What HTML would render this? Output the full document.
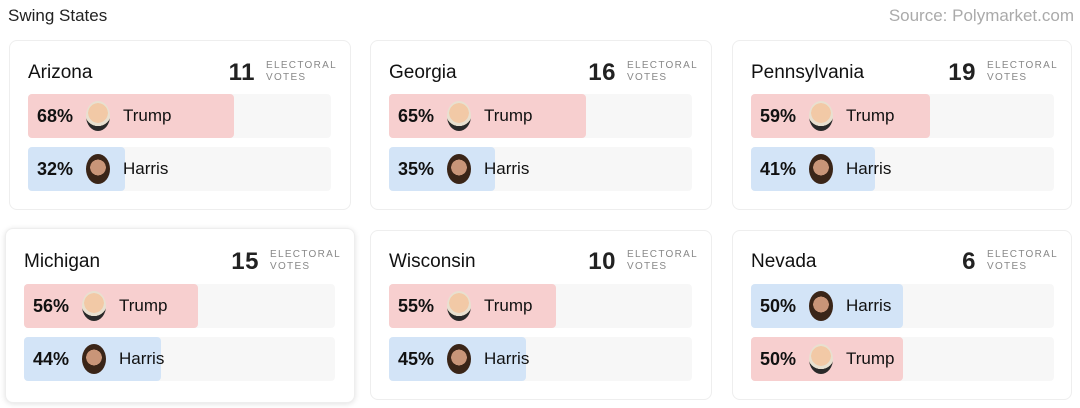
<!DOCTYPE html>
<html><head><meta charset="utf-8"><style>
*{margin:0;padding:0;box-sizing:border-box}
body{width:1080px;height:408px;background:#fff;font-family:"Liberation Sans",sans-serif;position:relative;overflow:hidden;color:#111}
.h{position:absolute;left:8px;top:6px;font-size:17px;color:#222}
.src{position:absolute;right:6px;top:6px;font-size:17px;color:#aaa}
.card{position:absolute;border:1.5px solid #eee;border-radius:8px;background:#fff}
.t{position:absolute;font-size:19px;color:#111}
.n{position:absolute;font-size:24px;color:#222;font-weight:bold;letter-spacing:0.5px}
.ev{position:absolute;font-size:10px;color:#888;letter-spacing:1.3px;line-height:12px}
.bg{position:absolute;background:#f7f7f7;border-radius:4px;height:44px}
.b{position:absolute;border-radius:4px;height:44px}
.r{background:#f7cfcf}.bl{background:#d3e4f7}
.p{position:absolute;font-size:18px;font-weight:bold;color:#111}
.nm{position:absolute;font-size:17px;color:#111}
.f{position:absolute;width:24px;height:30px;border-radius:50%}
.ft{background:radial-gradient(circle at 50% 40%,#f2c9a6 0 45%,#e8e0d0 46% 60%,#2a2a2a 61%)}
.fh{background:radial-gradient(circle at 50% 45%,#c99578 0 38%,#3a2518 39%)}
</style></head><body>
<div class="h">Swing States</div>
<div class="src">Source: Polymarket.com</div>
<div id="c"></div>
<script>
const cards=[
[9,40,342,170,"Arizona","11",[["Trump",68,"r",206],["Harris",32,"bl",97]]],
[370,40,342,170,"Georgia","16",[["Trump",65,"r",197],["Harris",35,"bl",106]]],
[732,40,340,170,"Pennsylvania","19",[["Trump",59,"r",179],["Harris",41,"bl",124]]],
[5,228,350,175,"Michigan","15",[["Trump",56,"r",174],["Harris",44,"bl",137]]],
[370,230,342,170,"Wisconsin","10",[["Trump",55,"r",167],["Harris",45,"bl",137]]],
[732,230,340,170,"Nevada","6",[["Harris",50,"bl",152],["Trump",50,"r",152]]]];
let h="";
cards.forEach(([x,y,w,ht,name,n,rows],i)=>{
 const row2=i>=3;
 h+=`<div class="card" style="left:${x}px;top:${y}px;width:${w}px;height:${ht}px;${i==3?'box-shadow:0 1px 6px rgba(0,0,0,.12)':''}"></div>`;
 const bx=i==3?24:x+19; const bw=i==3?311:303;
 const ty=row2?251:62;
 h+=`<div class="t" style="left:${bx}px;top:${ty}px">${name}</div>`;
 const nr=x+w-96;
 h+=`<div class="n" style="right:${1080-(nr)}px;top:${ty-3}px">${n}</div>`;
 h+=`<div class="ev" style="left:${nr+11}px;top:${ty-2}px">ELECTORAL<br>VOTES</div>`;
 const by=row2?284:94;
 rows.forEach(([c,p,cl,bwid],j)=>{
  const yy=by+j*53;
  h+=`<div class="bg" style="left:${bx}px;top:${yy}px;width:${bw}px"></div>`;
  h+=`<div class="b ${cl}" style="left:${bx}px;top:${yy}px;width:${bwid}px"></div>`;
  h+=`<div class="p" style="left:${bx+9}px;top:${yy+12}px">${p}%</div>`;
  h+=`<div class="f ${c=="Trump"?"ft":"fh"}" style="left:${bx+58}px;top:${yy+7}px"></div>`;
  h+=`<div class="nm" style="left:${bx+95}px;top:${yy+12}px">${c}</div>`;
 });
});
document.getElementById("c").innerHTML=h;
</script>
</body></html>
